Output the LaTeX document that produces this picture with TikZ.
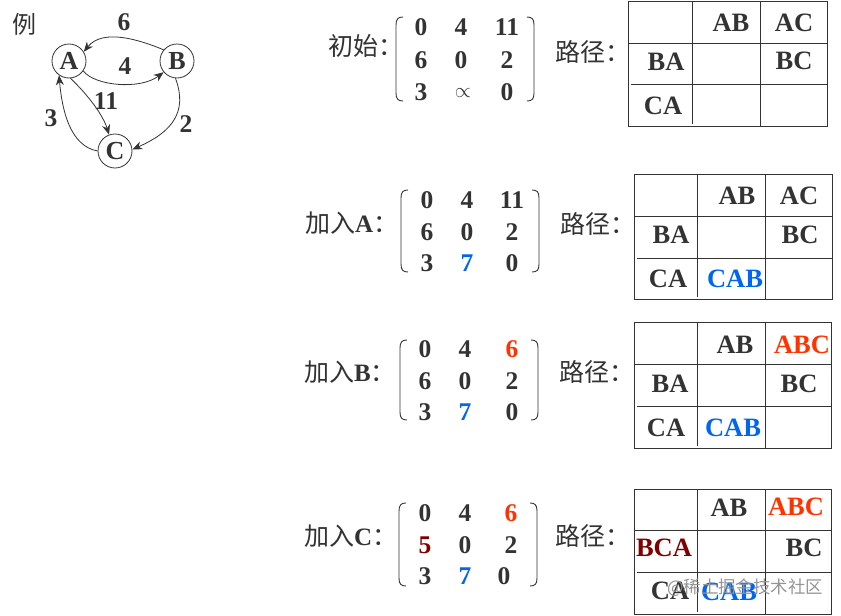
\documentclass[tikz,border=0pt]{standalone}
\usepackage{fontspec}
\setmainfont{Liberation Serif}
\newfontfamily\cjk{Noto Sans CJK SC}
\usetikzlibrary{arrows.meta}
\definecolor{ink}{HTML}{333333}
\definecolor{bluec}{HTML}{0066EE}
\definecolor{orangec}{HTML}{FF3300}
\definecolor{redc}{HTML}{800000}
\tikzset{
  txt/.style={inner sep=0pt,text=ink,font=\fontsize{25.5}{25.5}\selectfont\bfseries},
  cell/.style={inner sep=0pt,text=ink,font=\fontsize{26.5}{26.5}\selectfont\bfseries},
  cjklab/.style={inner sep=0pt,anchor=west,text=ink,font=\fontsize{25}{25}\selectfont},
  vertex/.style={circle,draw=ink,line width=0.8pt,minimum size=34pt,inner sep=0pt,text=ink,font=\fontsize{26}{26}\selectfont\bfseries},
  edgeln/.style={draw=ink,line width=0.8pt,-{Stealth[length=10pt,width=8pt]}},
  brk/.style={draw=ink,line width=0.9pt},
  gridln/.style={draw=ink,line width=0.9pt},
  wmark/.style={inner sep=0pt,font=\fontsize{17.4}{17.4}\selectfont,text=black!42},
}
\newcommand{\tbl}[8]{%
  \draw[gridln] (#1,#5) rectangle (#4,#8);
  \draw[gridln] (#2,#5) -- (#2,#8-2) (#3,#5) -- (#3,#8);
  \draw[gridln] (#1,#6) -- (#4,#6) (#1+3,#7) -- (#4,#7);
}
\newcommand{\brks}[4]{%
  \draw[brk] (#1+7,#3) .. controls (#1+2,#3) and (#1,#3+2) .. (#1,#3+8) -- (#1,#4-8) .. controls (#1,#4-2) and (#1+2,#4) .. (#1+7,#4);
  \draw[brk] (#2-7,#3) .. controls (#2-2,#3) and (#2,#3+2) .. (#2,#3+8) -- (#2,#4-8) .. controls (#2,#4-2) and (#2-2,#4) .. (#2-7,#4);
}
\begin{document}
\begin{tikzpicture}[x=1pt,y=-1pt]
\useasboundingbox (0,0) rectangle (841,616);
% graph
\node[cjklab,font=\fontsize{24}{24}\selectfont\cjk] (ex) at (12,24) {例};
\node[vertex] (A) at (69,61) {A};
\node[vertex] (B) at (177,61) {B};
\node[vertex] (C) at (115,151) {C};
\draw[edgeln] (B.140) .. controls (140,40) and (103,28) .. (A.32);
\draw[edgeln] (A.-35) .. controls (95,86) and (140,90) .. (B.-140);
\draw[edgeln] (A.-85) .. controls (88,95) and (103,115) .. (C.110);
\draw[edgeln] (C.180) .. controls (70,146) and (62,110) .. (A.-125);
\draw[edgeln] (B.-95) .. controls (188,112) and (172,132) .. (C.5);
\node[txt] (l6) at (124,22) {6};
\node[txt] (l4) at (125,66) {4};
\node[txt] (l11) at (106,101) {11};
\node[txt] (l3) at (51,118) {3};
\node[txt] (l2) at (186,124) {2};
% panel 1
\node[cjklab] (p1) at (328,46) {{\cjk 初始：}};
\brks{396}{534}{17}{101}
\node[txt] at (421,27) {0};\node[txt] at (461,27) {4};\node[txt] at (507,27) {11};
\node[txt] at (421,60) {6};\node[txt] at (461,60) {0};\node[txt] at (507,60) {2};
\node[txt] at (421,92) {3};\node[txt,font=\fontsize{22}{22}\selectfont] at (463,93) {$\propto$};\node[txt] at (507,92) {0};
\node[cjklab] (q1) at (555,52) {{\cjk 路径：}};
\tbl{628}{692}{760}{827}{1}{43}{84}{126}
\node[cell] at (731,23) {AB};\node[cell] at (794,23) {AC};
\node[cell] at (666,62) {BA};\node[cell] at (794,61) {BC};
\node[cell] at (663,106) {CA};
% panel 2
\node[cjklab] (p2) at (305,223) {{\cjk 加入}{\bfseries A}{\cjk ：}};
\brks{401}{539}{190}{272}
\node[txt] at (427,200) {0};\node[txt] at (467,200) {4};\node[txt] at (512,200) {11};
\node[txt] at (427,232) {6};\node[txt] at (467,232) {0};\node[txt] at (512,232) {2};
\node[txt] at (427,263) {3};\node[txt,text=bluec] at (467,263) {7};\node[txt] at (512,263) {0};
\node[cjklab] (q2) at (560,224) {{\cjk 路径：}};
\tbl{634}{697}{765}{832}{174}{216}{258}{299}
\node[cell] at (737,196) {AB};\node[cell] at (799,196) {AC};
\node[cell] at (671,235) {BA};\node[cell] at (800,235) {BC};
\node[cell] at (668,279) {CA};\node[cell,text=bluec] at (735,279) {CAB};
% panel 3
\node[cjklab] (p3) at (304,372) {{\cjk 加入}{\bfseries B}{\cjk ：}};
\brks{400}{538}{340}{420}
\node[txt] at (425,349) {0};\node[txt] at (465,349) {4};\node[txt,text=orangec] at (512,349) {6};
\node[txt] at (425,381) {6};\node[txt] at (465,381) {0};\node[txt] at (512,381) {2};
\node[txt] at (425,412) {3};\node[txt,text=bluec] at (465,412) {7};\node[txt] at (512,412) {0};
\node[cjklab] (q3) at (559,372) {{\cjk 路径：}};
\tbl{634}{697}{765}{831}{322}{364}{406}{448}
\node[cell] at (735,345) {AB};\node[cell,text=orangec] at (802,345) {ABC};
\node[cell] at (670,384) {BA};\node[cell] at (799,384) {BC};
\node[cell] at (666,428) {CA};\node[cell,text=bluec] at (733,428) {CAB};
% panel 4
\node[cjklab] (p4) at (304,536) {{\cjk 加入}{\bfseries C}{\cjk ：}};
\brks{399}{537}{503}{586}
\node[txt] at (425,513) {0};\node[txt] at (465,513) {4};\node[txt,text=orangec] at (511,513) {6};
\node[txt,text=redc] at (425,545) {5};\node[txt] at (465,545) {0};\node[txt] at (511,545) {2};
\node[txt] at (425,576) {3};\node[txt,text=bluec] at (465,576) {7};\node[txt] at (504,576) {0};
\node[cjklab] (q4) at (555,536) {{\cjk 路径：}};
\tbl{634}{697}{765}{831}{489}{530}{572}{614}
\node[cell] at (729,508) {AB};\node[cell,text=orangec] at (796,507) {ABC};
\node[cell,text=redc] at (664,548) {BCA};\node[cell] at (804,548) {BC};
\node[cell] at (670,591) {CA};\node[cell,text=bluec] at (729,592) {CAB};
\node[wmark,anchor=east] (wm) at (823,588) {{\cjk @稀土掘金技术社区}};
\end{tikzpicture}
\end{document}
